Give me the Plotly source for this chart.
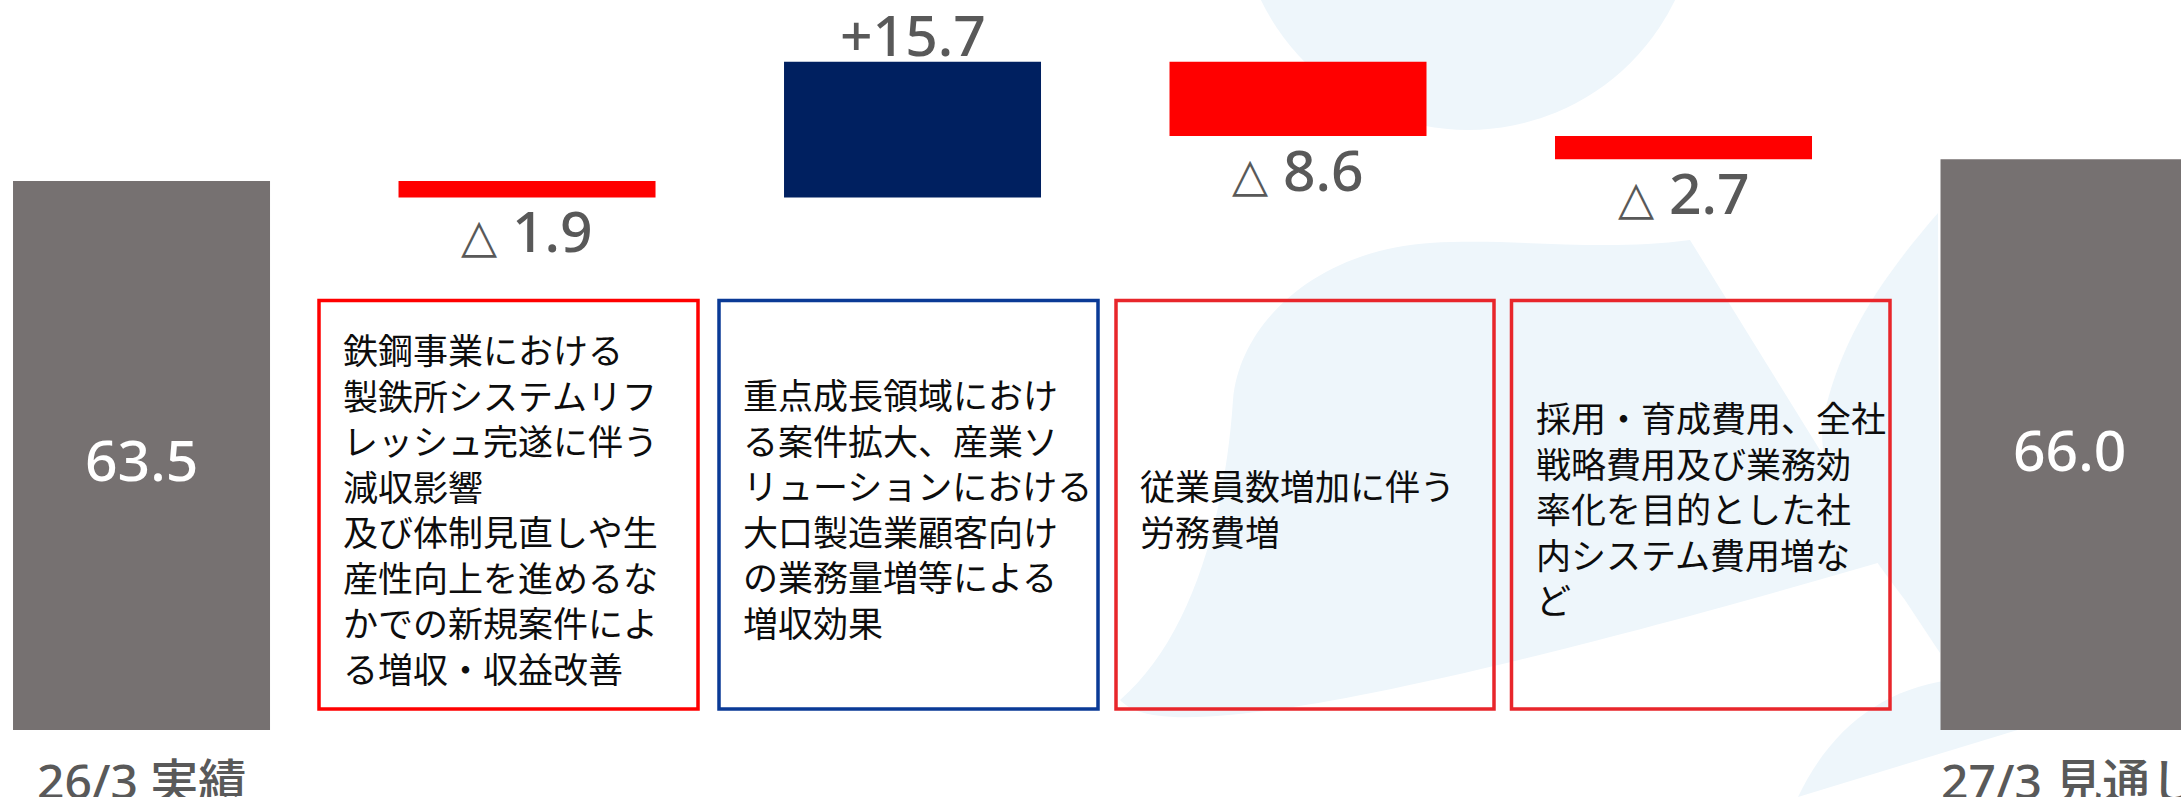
import plotly.graph_objects as go

# ---------------------------------------------------------------
# Data: operating-profit bridge (億円)
# ---------------------------------------------------------------
STEP_VALUES = [63.5, -1.9, 15.7, -8.6, -2.7, 66.0]
STEP_MEASURES = ["absolute", "relative", "relative", "relative", "relative", "total"]
PERIOD_LABELS = ["26/3 実績", "", "", "", "", "27/3 見通し"]

DRIVER_NOTES = [
    "鉄鋼事業における<br>製鉄所システムリフ<br>レッシュ完遂に伴う<br>減収影響<br>"
    "及び体制見直しや生<br>産性向上を進めるな<br>かでの新規案件によ<br>る増収・収益改善",
    "重点成長領域におけ<br>る案件拡大、産業ソ<br>リューションにおける<br>"
    "大口製造業顧客向け<br>の業務量増等による<br>増収効果",
    "従業員数増加に伴う<br>労務費増",
    "採用・育成費用、全社<br>戦略費用及び業務効<br>率化を目的とした社<br>内システム費用増な<br>ど",
]

# ---------------------------------------------------------------
# Styling / layout constants
# ---------------------------------------------------------------
W, H = 2181, 797
COL_TOTAL = "#767171"
COL_UP = "#002060"
COL_DOWN = "#FF0000"
COL_LABEL = "#595959"
COL_WATERMARK = "#EEF6FB"
NOTE_BORDERS = ["#FF0000", "#0A3A96", "#E8262B", "#E8262B"]
NOTE_BOX_PX = [(319, 698), (719, 1098), (1116, 1494), (1511.5, 1890)]  # left/right
NOTE_TOP_PX, NOTE_BOTTOM_PX = 300.5, 709

X_RANGE = [-0.3671, 5.2905]
Y_RANGE = [-7.749, 84.43]

NUM_FONT = "Noto Sans, DejaVu Sans, sans-serif"
CAT_FONT = "Noto Sans, Noto Sans CJK JP, sans-serif"
JP_FONT = "Noto Sans CJK JP, Noto Sans, sans-serif"
DELTA_MARK = '<span style="font-family:DejaVu Sans;font-size:47px">△</span>'


def px_x(p):
    return p / W


def px_y(p):
    return 1 - p / H


def px_path(cmds):
    """Build an SVG path in paper coords from a list of (cmd, [x, y, ...]) in pixels."""
    out = []
    for cmd, pts in cmds:
        coords = []
        for i in range(0, len(pts), 2):
            coords.append(f"{px_x(pts[i]):.5f},{px_y(pts[i + 1]):.5f}")
        out.append(cmd + " " + " ".join(coords))
    return " ".join(out) + " Z"


x_pos = list(range(len(STEP_VALUES)))

fig = go.Figure(
    go.Waterfall(
        x=x_pos,
        y=STEP_VALUES,
        measure=STEP_MEASURES,
        increasing=dict(marker=dict(color=COL_UP, line=dict(width=0))),
        decreasing=dict(marker=dict(color=COL_DOWN, line=dict(width=0))),
        totals=dict(marker=dict(color=COL_TOTAL, line=dict(width=0))),
        connector=dict(visible=False),
        textinfo="none",
        hoverinfo="skip",
    )
)

# running levels for label placement
annotations = []
level = 0.0
num_font = dict(size=57, family=NUM_FONT, weight=500)
for i, (v, m) in enumerate(zip(STEP_VALUES, STEP_MEASURES)):
    if m == "absolute":
        level = v
        annotations.append(dict(x=i, y=v / 2, text=f"{v:.1f}", yshift=-4,
                                font=dict(num_font, color="white")))
    elif m == "total":
        annotations.append(dict(x=i, y=level / 2, text=f"{level:.1f}", yshift=-4,
                                font=dict(num_font, color="white")))
    else:
        level = level + v
        if v >= 0:
            annotations.append(dict(x=i, y=level, text=f"+{v:.1f}", yshift=28,
                                    font=dict(num_font, color=COL_LABEL)))
        else:
            annotations.append(dict(x=i, y=level, text=f"{DELTA_MARK} {abs(v):.1f}", yshift=-33,
                                    font=dict(num_font, color=COL_LABEL)))

for i, lab in enumerate(PERIOD_LABELS):
    if lab:
        annotations.append(dict(x=i, y=0, text=lab, yshift=-50,
                                font=dict(color=COL_LABEL, size=48, family=CAT_FONT, weight=500)))

for a in annotations:
    a.update(xref="x", yref="y", showarrow=False, xanchor="center", yanchor="middle")

# explanation boxes
shapes = []
box_mid = (NOTE_TOP_PX + NOTE_BOTTOM_PX) / 2
for (x0, x1), col, note in zip(NOTE_BOX_PX, NOTE_BORDERS, DRIVER_NOTES):
    shapes.append(dict(type="rect", xref="paper", yref="paper",
                       x0=px_x(x0), x1=px_x(x1), y0=px_y(NOTE_BOTTOM_PX), y1=px_y(NOTE_TOP_PX),
                       line=dict(color=col, width=3.5), fillcolor="rgba(0,0,0,0)", layer="above"))
    annotations.append(dict(xref="paper", yref="paper", x=px_x(x0 + 22), y=px_y(box_mid + 3),
                            xanchor="left", yanchor="middle", align="left", showarrow=False,
                            text=note, font=dict(color="#0d0d0d", size=35, family=JP_FONT)))

# faint background swirl
wm = dict(type="path", xref="paper", yref="paper", fillcolor=COL_WATERMARK,
          line=dict(width=0), layer="below")
shapes.append(dict(type="circle", xref="paper", yref="paper", x0=px_x(1238), x1=px_x(1698),
                   y0=px_y(130), y1=px_y(-330), fillcolor=COL_WATERMARK, line=dict(width=0),
                   layer="below"))
shapes.append(dict(wm, path=px_path([("M", [1851, 0]), ("L", [1998, 0, 1208, 797, 1050, 797])])))
shapes.append(dict(wm, path=px_path([
    ("M", [1233, 400]),
    ("C", [1240, 320, 1320, 250, 1430, 243]),
    ("C", [1520, 238, 1600, 252, 1690, 240]),
    ("L", [1888, 560, 1609, 797, 1300, 797]),
    ("C", [1200, 760, 1140, 720, 1120, 700]),
    ("C", [1190, 640, 1225, 520, 1233, 400]),
])))
shapes.append(dict(wm, path=px_path([
    ("M", [1938, 213]),
    ("C", [1880, 280, 1840, 340, 1823, 420]),
    ("C", [1815, 480, 1860, 540, 1905, 600]),
    ("L", [1940, 653, 2181, 653, 2181, 213]),
])))
shapes.append(dict(wm, path=px_path([
    ("M", [1798, 797]),
    ("C", [1830, 730, 1880, 690, 1950, 680]),
    ("L", [2181, 680, 2181, 797]),
])))

fig.update_layout(
    width=W, height=H, autosize=False,
    margin=dict(l=0, r=0, t=0, b=0, pad=0),
    paper_bgcolor="white", plot_bgcolor="rgba(0,0,0,0)",
    waterfallgap=1 / 3,
    showlegend=False,
    xaxis=dict(range=X_RANGE, visible=False, fixedrange=True),
    yaxis=dict(range=Y_RANGE, visible=False, fixedrange=True),
    annotations=annotations,
    shapes=shapes,
)

fig.write_html("out.html")
